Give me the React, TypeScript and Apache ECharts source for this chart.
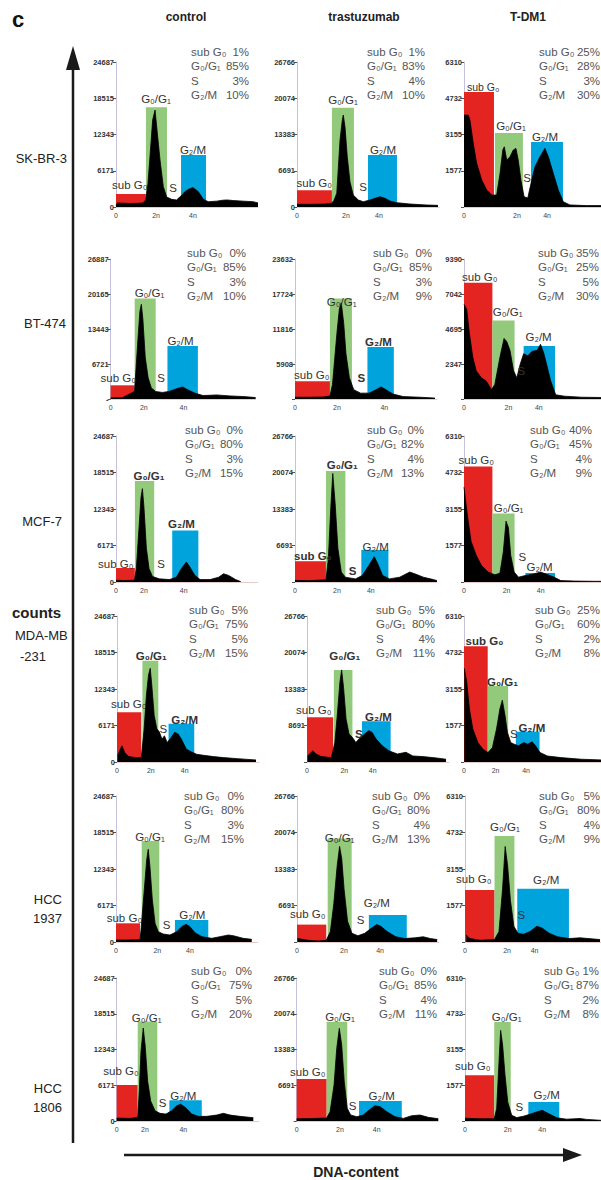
import React, { useEffect, useRef } from "react";
import * as echarts from "echarts";

// ---------------- DATA ----------------
const cellLines = ["SK-BR-3", "BT-474", "MCF-7", "MDA-MB-231", "HCC 1937", "HCC 1806"];
const treatments = ["control", "trastuzumab", "T-DM1"];
const phaseLabels = ["sub G₀", "G₀/G₁", "S", "G₂/M"];
const ploidyLabels = ["0", "2n", "4n"];

// y tick labels, from 0 to top, one entry per panel (row-major: control, trastuzumab, T-DM1)
const yTickLabels: string[][] = [
  ["0", "6171", "12343", "18515", "24687"], ["0", "6691", "13383", "20074", "26766"], ["", "1577", "3155", "4732", "6310"],
  ["-", "6721", "13443", "20165", "26887"], ["", "5908", "11816", "17724", "23632"], ["", "2347", "4695", "7042", "9390"],
  ["0", "6171", "12343", "18515", "24687"], ["", "6691", "13383", "20074", "26766"], ["", "1577", "3155", "4732", "6310"],
  ["0", "6171", "12343", "18515", "24687"], ["", "8691", "13383", "20074", "26766"], ["", "1577", "3155", "4732", "6310"],
  ["0", "6171", "12343", "18515", "24687"], ["", "6691", "13383", "20074", "26766"], ["", "1577", "3155", "4732", "6310"],
  ["0", "6171", "12343", "18515", "24687"], ["", "6691", "13383", "20074", "26766"], ["", "1577", "3155", "4732", "6310"],
];
const yMaxCounts = [
  24687, 26766, 6310,
  26887, 23632, 9390,
  24687, 26766, 6310,
  24687, 26766, 6310,
  24687, 26766, 6310,
  24687, 26766, 6310,
];

// percentages: sub G0, G0/G1, S, G2/M
const phasePercents = [
  [1, 85, 3, 10], [1, 83, 4, 10], [25, 28, 3, 30],
  [0, 85, 3, 10], [0, 85, 3, 9], [35, 25, 5, 30],
  [0, 80, 3, 15], [0, 82, 4, 13], [40, 45, 4, 9],
  [5, 75, 5, 15], [5, 80, 4, 11], [25, 60, 2, 8],
  [0, 80, 3, 15], [0, 80, 4, 13], [5, 80, 4, 9],
  [0, 75, 5, 20], [0, 85, 4, 11], [1, 87, 2, 8],
];

// channel of "2n" and "4n" tick labels (channel scale 0-100)
const ploidyPos = [
  [28.2, 54.2], [34.5, 57.7], [37.3, 58.5],
  [22.9, 50.2], [29.5, 62.9], [31.3, 52.7],
  [19.7, 47.7], [29.5, 53.4], [30, 54],
  [23.8, 47.7], [26.3, 46.3], [22.2, 43.7],
  [29.1, 52.1], [33.1, 58.5], [29.6, 49],
  [19.9, 46.9], [30.5, 56.3], [30.1, 54.4],
];

// gates: [start channel, end channel, height in counts] for sub G0, G0/G1, G2/M
const gatesSKBR3 = [
  [[0, 21, 2200], [21.1, 35.9, 17000], [45.8, 63.4, 8850]],
  [[0, 24.6, 3100], [24.6, 40.1, 18300], [50, 70.4, 9600]],
  [[0, 21.1, 5000], [21.8, 41.5, 3220], [47.2, 69.7, 2830]],
];
const gatesBT474 = [
  [[0, 16.6, 2630], [16.6, 31.1, 19280], [39.2, 60.2, 10170]],
  [[0, 24.6, 3010], [24.6, 40.1, 16950], [51, 69.6, 8770]],
  [[0, 20, 7790], [20, 35.6, 5270], [42, 64.1, 3560]],
];
const gatesMCF7 = [
  [[0, 13.3, 2370], [13.3, 26.9, 17090], [39.6, 58, 8700]],
  [[0, 21.8, 3810], [21.8, 35.5, 20350], [46.7, 65.8, 5890]],
  [[0, 20, 4990], [20, 35.6, 2960], [43.2, 64.1, 390]],
];
const gatesMDA = [
  [[0, 17.1, 8430], [17.9, 29.1, 17120], [36.3, 54.4, 6450]],
  [[0, 18.4, 8210], [18.9, 32, 16880], [38.7, 58.9, 7480]],
  [[0, 16.7, 5000], [16.7, 31.1, 3290], [36.5, 53.2, 1310]],
];
const gatesHCC1937 = [
  [[0, 16.9, 3160], [18.1, 30.5, 17070], [41.5, 65, 3720]],
  [[0, 20.6, 3190], [21.6, 38.5, 18990], [50.6, 77.3, 4970]],
  [[0, 20.8, 2250], [20.8, 34.8, 4580], [36.8, 73.2, 2300]],
];
const gatesHCC1806 = [
  [[0, 14.8, 6220], [14.8, 28.6, 17190], [37.1, 59.9, 3600]],
  [[0, 21.1, 7860], [21.1, 35.6, 18590], [43.9, 74, 3740]],
  [[0, 20.6, 2015], [20.6, 32.2, 4370], [44.6, 66.4, 840]],
];

// DNA histograms: [channel, counts]
const histSKBR3 = [
  [[0, 300], [1, 700], [5, 650], [10, 600], [15, 620], [19, 700], [20.9, 1200], [22.5, 4000], [23.9, 8500], [25.8, 14800], [27.5, 16500], [29.1, 12600], [31, 8000], [33.3, 3500], [35.7, 1700], [39.2, 1300], [42.7, 1200], [44.5, 1600], [46.3, 2000], [48.5, 2600], [50.9, 3000], [52.5, 3150], [54, 3300], [56, 3000], [58, 2600], [61.5, 1300], [65, 900], [70.9, 1000], [75, 1150], [78, 1200], [82.6, 1100], [89.6, 1000], [96.7, 900], [100, 700]],
  [[0, 500], [10, 500], [20, 550], [24.4, 700], [26, 1200], [28, 2530], [30.3, 12370], [31.9, 16060], [32.6, 16980], [33.8, 14800], [35.4, 9290], [37.3, 4670], [39.6, 2210], [43.2, 1290], [46.7, 980], [51.4, 1290], [54.9, 1600], [58.5, 1900], [62, 1600], [65.5, 1100], [70.2, 800], [79.6, 550], [91.3, 370], [99.3, 300]],
  [[0, 4000], [3, 4000], [4.2, 3780], [6.5, 2780], [8.9, 1910], [12.5, 1170], [16, 740], [19.5, 520], [23, 520], [25.4, 1480], [27.3, 2480], [28.4, 2620], [30.1, 2040], [32.4, 2190], [34.7, 2480], [36.6, 2550], [38.2, 2040], [40.1, 1170], [42.3, 450], [44.9, 390], [47.7, 1170], [50, 1750], [53.5, 2190], [57, 2550], [59.4, 2190], [62.9, 1460], [66.4, 740], [69.9, 230], [74.6, 90], [86.4, 60], [96.5, 60]],
];
const histBT474 = [
  [[0, 200], [8, 250], [16.5, 1450], [18.8, 11290], [20.2, 16860], [21.2, 18180], [22.3, 15220], [23.9, 8000], [25.9, 4060], [28.1, 2130], [31, 1450], [35.7, 1260], [40.3, 1450], [45, 1930], [49.7, 2320], [53.2, 1760], [57.9, 1160], [63.7, 660], [73.1, 780], [82.4, 590], [91.7, 470], [100, 280]],
  [[0, 300], [10, 300], [20, 350], [24.6, 500], [26.4, 2430], [29.5, 11070], [31.2, 15130], [32.6, 16250], [34.3, 12800], [35.9, 7620], [38.3, 3590], [41.4, 1560], [46.2, 990], [52.2, 990], [57, 1560], [60.6, 2040], [64.1, 1560], [68.9, 850], [76.1, 410], [88, 300], [98.6, 150]],
  [[0, 6350], [1.9, 6020], [3.8, 4400], [6.2, 2800], [8.6, 1890], [12.2, 1420], [15.7, 1200], [19.3, 620], [21.7, 970], [25.3, 2800], [28.2, 4060], [30.1, 3850], [32.4, 3260], [34.9, 1890], [37.2, 1420], [39.6, 2340], [42, 3040], [44.9, 2900], [48, 3200], [51.5, 3260], [53.9, 3670], [56.3, 3040], [58.7, 2110], [61.1, 1200], [64.6, 280], [70.6, 190], [82.6, 120], [96.5, 100]],
];
const histMCF7 = [
  [[0, 300], [6, 250], [13, 300], [14.3, 2260], [16.2, 9160], [17.6, 14340], [18.6, 15780], [19.7, 12600], [21.4, 5700], [23.3, 2260], [25.7, 930], [30.5, 530], [37.7, 410], [42.5, 810], [46, 2260], [49.6, 3390], [52, 2540], [55.6, 1100], [59.2, 410], [66.3, 410], [72.3, 810], [75.8, 1390], [79.4, 1100], [84.2, 410], [87.8, 70]],
  [[0, 300], [10, 250], [21.8, 400], [23.5, 4320], [25.2, 13670], [26.6, 19900], [28.3, 14300], [30.2, 6180], [32.6, 1820], [35.5, 880], [42.6, 570], [47.4, 1200], [52.1, 3070], [55.8, 4640], [58.2, 3390], [61.7, 1200], [66.5, 570], [73.7, 880], [80.8, 1820], [84.4, 1500], [90.4, 880], [97.5, 440], [100, 250]],
  [[0, 4100], [2.6, 2780], [5, 1750], [8.6, 1160], [12.2, 720], [17, 430], [21.7, 310], [25.3, 380], [27.7, 1310], [29.6, 2630], [31.3, 2340], [32.9, 1160], [35.3, 430], [38.4, 210], [43.2, 280], [49.2, 350], [53.9, 430], [58.7, 320], [63.5, 210], [68.2, 60], [77.8, 40], [92.1, 30], [96.5, 30]],
];
const histMDA = [
  [[0.4, 1030], [2.3, 2150], [3.5, 2730], [5.4, 1600], [8.3, 910], [13.1, 740], [17.1, 740], [19.1, 5590], [20.7, 11290], [22.2, 14710], [23.4, 15850], [24.5, 13010], [26.2, 7860], [28.1, 5590], [29.8, 5100], [31.7, 3870], [33.4, 4430], [35.3, 3300], [38.2, 4150], [40.6, 5020], [43, 4750], [45.3, 3870], [48.9, 2150], [52.5, 1700], [56.1, 1310], [60.8, 1140], [68, 910], [75.1, 740], [84.7, 570], [97.9, 340]],
  [[0.4, 1110], [4.1, 2040], [6.4, 1470], [10, 990], [17.2, 810], [19.6, 3580], [21.5, 9140], [23.2, 14710], [24.4, 16880], [25.8, 13490], [27.5, 7920], [29.6, 5130], [32, 4510], [34.4, 3580], [37.5, 4510], [40.6, 5130], [43.5, 5750], [45.8, 5440], [48.7, 4200], [53, 2960], [57.7, 2040], [63.7, 1470], [69.7, 1780], [74.5, 1110], [81.6, 990], [91.2, 740], [97.9, 500]],
  [[0.2, 4050], [1.9, 3470], [3.8, 2300], [6.2, 1430], [9.8, 840], [13.4, 550], [16.9, 410], [20, 620], [22.9, 1430], [25.3, 2300], [27, 2670], [28.9, 2010], [30.6, 1280], [32.9, 840], [35.3, 770], [38.4, 700], [42, 840], [44.9, 770], [48, 870], [50.4, 700], [53.5, 410], [58.7, 260], [68.2, 190], [82.6, 120], [96.5, 90]],
];
const histHCC1937 = [
  [[0, 340], [8, 340], [16.9, 400], [17.6, 2030], [19.9, 8790], [21.6, 13860], [22.7, 15670], [23.9, 12730], [25.6, 7100], [27.5, 3160], [29.8, 1740], [33.3, 1350], [38, 1180], [42.7, 1740], [46.3, 2590], [49.3, 2990], [52.1, 2590], [55.6, 1570], [60.4, 900], [67.4, 620], [73.2, 900], [79.1, 1180], [82.6, 1070], [89.6, 620], [95.6, 450]],
  [[0.4, 640], [7.7, 320], [15, 190], [20.6, 320], [23.5, 1910], [25.9, 7010], [28.3, 14020], [30, 17520], [31.5, 15290], [33.2, 9560], [35.6, 3820], [38.7, 1590], [42.9, 1150], [47.7, 1590], [52.5, 2550], [56.2, 3190], [59.1, 2870], [63.5, 1910], [69.5, 960], [75.6, 640], [82.9, 760], [88.9, 960], [93.8, 640], [98.7, 450]],
  [[0.9, 300], [3.4, 150], [10.6, 75], [20.8, 105], [23.9, 450], [26.4, 2250], [28.3, 4130], [30, 3310], [32, 1800], [34.4, 680], [37.3, 380], [41, 330], [45.8, 450], [50.6, 680], [54.3, 600], [59.2, 380], [65.2, 225], [73.2, 150], [81, 180], [95.1, 105]],
];
const histHCC1806 = [
  [[0, 500], [9.4, 450], [14.8, 630], [15.9, 5190], [17.1, 12050], [18.7, 16060], [20.1, 12900], [21.8, 6900], [23.9, 3480], [27, 1770], [30.5, 1320], [34.7, 1200], [38.7, 1770], [42.3, 2620], [45.1, 2910], [48.8, 2230], [52.8, 1200], [57.5, 800], [63.4, 800], [70.4, 1030], [75.1, 1320], [79.8, 1030], [86.8, 800], [96.2, 570]],
  [[0, 400], [9.4, 450], [21.1, 560], [23.5, 1740], [26.3, 6740], [28.2, 13600], [30, 17350], [31.7, 14230], [33.5, 7360], [35.6, 2380], [38, 1120], [42.3, 800], [46.9, 1120], [51.1, 2060], [55.1, 2860], [58.7, 2680], [63.4, 1740], [69.2, 800], [75.1, 490], [81, 990], [86.8, 1120], [92.7, 680], [99.7, 430]],
  [[0, 120], [10.6, 100], [20.6, 100], [22.3, 550], [23.7, 2310], [25.1, 4000], [26.5, 3340], [28.2, 2020], [30.1, 840], [32.9, 250], [36.4, 150], [41.1, 210], [45.8, 300], [50.5, 400], [54.4, 470], [58.7, 330], [64.6, 140], [71.6, 80], [81, 110], [85.7, 70], [95.8, 30]],
];

const allGates = [gatesSKBR3, gatesBT474, gatesMCF7, gatesMDA, gatesHCC1937, gatesHCC1806];
const allHists = [histSKBR3, histBT474, histMCF7, histMDA, histHCC1937, histHCC1806];

// ---------------- LAYOUT ----------------
const FONT = "'Liberation Sans', Arial, 'DejaVu Sans', sans-serif";
const PX_PER_CH = 1.42;
const rowTopZero = [[62, 207], [259, 399], [436, 582], [616, 762], [796, 942], [978, 1121]];
const panelLeft = [
  [116, 297, 464], [110.6, 295, 464], [116, 295, 464],
  [117, 307, 464], [116, 297, 465], [116.7, 296.7, 465],
];
const statPos = [
  [191, 249, 52], [367, 425, 52], [539, 600, 52],
  [187, 246, 253], [373, 432, 253], [538, 599, 253],
  [185, 243, 430], [367, 424, 430], [530, 592, 430],
  [189, 248, 610], [376, 435, 610], [535, 600, 610],
  [184, 244, 796], [372, 430, 796], [539, 600, 796],
  [191, 252, 971], [379, 437, 971], [544, 599, 971],
];
// gate label positions: [x, y, align(0 left,1 center,2 right), bold]
const gateLabelPos = [
  [[112, 185, 0, 0], [156, 99, 1, 0], [173, 188, 1, 0], [193, 150, 1, 0]],
  [[332, 183, 2, 0], [343, 100, 1, 0], [363, 187, 1, 0], [383, 150, 1, 0]],
  [[467, 87, 0, 0], [511, 126, 1, 0], [527, 178, 1, 0], [545, 137, 1, 0]],
  [[100.6, 378, 0, 0], [149.5, 293, 1, 0], [161, 378, 1, 0], [180.5, 341, 1, 0]],
  [[294, 375, 0, 0], [341.7, 302, 1, 0], [361.3, 378, 1, 1], [378.5, 342, 1, 1]],
  [[462, 277, 0, 0], [507.7, 312, 1, 0], [521.4, 371, 1, 0], [538.6, 337, 1, 0]],
  [[98, 564, 0, 0], [149, 476, 1, 1], [161, 564, 1, 0], [181.5, 524, 1, 1]],
  [[294, 556, 0, 1], [342.3, 465, 1, 1], [352.6, 571, 1, 1], [375.7, 546.5, 1, 0]],
  [[458.6, 460, 0, 0], [508.6, 508, 1, 0], [522.4, 557, 1, 0], [539.6, 567, 1, 0]],
  [[111, 704, 0, 0], [151.3, 656, 1, 1], [163.3, 729, 1, 0], [184.7, 719.5, 1, 1]],
  [[296, 710, 0, 0], [344.8, 656, 1, 1], [358.9, 734, 1, 1], [378.5, 717, 1, 1]],
  [[465.6, 640.6, 0, 1], [502.5, 682, 1, 1], [513.9, 734, 1, 0], [531.8, 728, 1, 1]],
  [[106.7, 918, 0, 0], [150, 837, 1, 0], [166.7, 925, 1, 0], [192.3, 915, 1, 0]],
  [[290, 914, 0, 0], [339.6, 838, 1, 0], [360.6, 920, 1, 0], [376.8, 903, 1, 0]],
  [[456, 879, 0, 0], [504.9, 827, 1, 0], [521.4, 915, 1, 0], [546.2, 880, 1, 0]],
  [[103.3, 1071, 0, 0], [146.7, 1018, 1, 0], [162.7, 1103, 1, 0], [183.3, 1096, 1, 0]],
  [[290, 1072, 0, 0], [340, 1017, 1, 0], [352.7, 1106, 1, 0], [381.7, 1096, 1, 0]],
  [[455, 1066, 0, 0], [506.7, 1017, 1, 0], [519.3, 1107, 1, 0], [546.7, 1095, 1, 0]],
];
const rowLabelPos = [
  [[67, 158, 2]], [[66, 323, 2]], [[62, 521, 2]], [[15, 635, 0], [20, 656, 0]], [[62, 899, 2], [62, 918, 2]], [[62, 1088, 2], [62, 1107, 2]],
];
const gateColors = ["#e42420", "#93c97a", "#00a3dc"];
const ALIGNS = ["left", "center", "right"];

function textEl(text: string, x: number, y: number, opts: any = {}) {
  const align = opts.align || "left";
  const va = opts.va || "middle";
  return {
    type: "text",
    x,
    y,
    silent: true,
    z: 10,
    style: {
      text,
      fontSize: opts.size || 12,
      fontFamily: FONT,
      fontWeight: opts.bold ? "bold" : "normal",
      fill: opts.color || "#333",
      align,
      textAlign: align,
      verticalAlign: va,
      textVerticalAlign: va,
    },
  };
}

function buildOption() {
  const grid: any[] = [];
  const xAxis: any[] = [];
  const yAxis: any[] = [];
  const series: any[] = [];
  const graphic: any[] = [];

  for (let r = 0; r < 6; r++) {
    for (let c = 0; c < 3; c++) {
      const p = r * 3 + c;
      const [yt, y0] = rowTopZero[r];
      const left = panelLeft[r][c];
      const wide = r === 1 && c === 0;
      let width = wide ? 145 : 142;
      if (left + width > 601) width = 601 - left;
      const xMax = width / (wide ? 1.45 : PX_PER_CH);
      grid.push({ left, top: yt, width, height: y0 - yt, containLabel: false, outerBoundsMode: "none" });
      const ymax = yMaxCounts[p];
      const yTicks = [0, ymax / 4, ymax / 2, (3 * ymax) / 4, ymax];
      const labels = yTickLabels[p];
      yAxis.push({
        gridIndex: p,
        type: "value",
        min: 0,
        max: ymax,
        axisLine: { show: true, lineStyle: { color: "#c6c0dc", width: 1 } },
        axisTick: { show: true, length: 3, customValues: yTicks, lineStyle: { color: "#555", width: 1 } },
        axisLabel: {
          show: true,
          customValues: yTicks,
          formatter: (v: number) => labels[Math.round(v / (ymax / 4))] ?? "",
          fontSize: 7.5,
          fontWeight: "bold",
          color: "#333",
          margin: 2,
          fontFamily: FONT,
        },
        splitLine: { show: false },
      });
      const pp = ploidyPos[p];
      const xVals = [0, pp[0], pp[1]];
      xAxis.push({
        gridIndex: p,
        type: "value",
        min: 0,
        max: xMax,
        axisLine: { show: true, onZero: false, lineStyle: { color: "#e4cccc", width: 1 } },
        axisTick: { show: false },
        axisLabel: {
          show: true,
          customValues: xVals,
          formatter: (v: number) => {
            let best = 0;
            xVals.forEach((xv, i) => {
              if (Math.abs(xv - v) < Math.abs(xVals[best] - v)) best = i;
            });
            return ploidyLabels[best];
          },
          fontSize: 7,
          color: "#444",
          margin: 5,
          fontFamily: FONT,
        },
        splitLine: { show: false },
      });
      const gates = allGates[r][c];
      series.push({
        type: "custom",
        name: `${cellLines[r]} ${treatments[c]} gates`,
        xAxisIndex: p,
        yAxisIndex: p,
        silent: true,
        z: 1,
        clip: false,
        data: gates.map((g, k) => [g[0], g[1], g[2], k]),
        encode: { x: [0, 1], y: 2 },
        renderItem: (params: any, api: any) => {
          const a = api.coord([api.value(0), api.value(2)]);
          const b = api.coord([api.value(1), 0]);
          return {
            type: "rect",
            shape: { x: a[0], y: a[1], width: b[0] - a[0], height: b[1] - a[1] },
            style: { fill: gateColors[api.value(3)] },
          };
        },
      });
      series.push({
        type: "line",
        name: `${cellLines[r]} ${treatments[c]}`,
        xAxisIndex: p,
        yAxisIndex: p,
        data: allHists[r][c],
        symbol: "none",
        silent: true,
        z: 2,
        lineStyle: { color: "#000", width: 0.8 },
        areaStyle: { color: "#000", opacity: 1 },
      });

      // statistics text
      const [sl, sr, sy] = statPos[p];
      phaseLabels.forEach((lab, k) => {
        const y = sy + k * 14.3;
        graphic.push(textEl(lab, sl, y, { size: 11.5, color: "#555" }));
        graphic.push(textEl(`${phasePercents[p][k]}%`, sr, y, { size: 11.5, color: "#555", align: "right" }));
      });
      // gate labels
      gateLabelPos[p].forEach((pos, k) => {
        graphic.push(
          textEl(phaseLabels[k], pos[0], pos[1], {
            size: p === 2 && k === 0 ? 10.5 : 11.5,
            color: "#333",
            align: ALIGNS[pos[2]],
            bold: pos[3] === 1,
          })
        );
      });
    }
  }

  // headers
  graphic.push(textEl("c", 12, 19, { size: 22, bold: true, color: "#111" }));
  graphic.push(textEl(treatments[0], 186, 17, { size: 12, bold: true, align: "center", color: "#222" }));
  graphic.push(textEl(treatments[1], 364, 17, { size: 12, bold: true, align: "center", color: "#222" }));
  graphic.push(textEl(treatments[2], 528, 17, { size: 12, bold: true, align: "center", color: "#222" }));

  // row labels
  const rowTexts = [["SK-BR-3"], ["BT-474"], ["MCF-7"], ["MDA-MB", "-231"], ["HCC", "1937"], ["HCC", "1806"]];
  rowTexts.forEach((lines, r) => {
    lines.forEach((t, k) => {
      const pos = rowLabelPos[r][k];
      graphic.push(textEl(t, pos[0], pos[1], { size: 13, color: "#222", align: ALIGNS[pos[2]] }));
    });
  });
  graphic.push(textEl("counts", 12, 612, { size: 15, bold: true, color: "#222" }));
  graphic.push(textEl("DNA-content", 356, 1172, { size: 14, bold: true, color: "#222", align: "center" }));

  // arrows
  graphic.push({ type: "line", silent: true, shape: { x1: 73, y1: 66, x2: 73, y2: 1143 }, style: { stroke: "#1a1a1a", lineWidth: 2.5 } });
  graphic.push({ type: "polygon", silent: true, shape: { points: [[66, 70], [80, 70], [73, 46]] }, style: { fill: "#1a1a1a" } });
  graphic.push({ type: "line", silent: true, shape: { x1: 124, y1: 1155, x2: 566, y2: 1155 }, style: { stroke: "#1a1a1a", lineWidth: 2.5 } });
  graphic.push({ type: "polygon", silent: true, shape: { points: [[563, 1148], [563, 1162], [582, 1155]] }, style: { fill: "#1a1a1a" } });

  return { animation: false, backgroundColor: "#ffffff", grid, xAxis, yAxis, series, graphic };
}

export default function App() {
  const ref = useRef<HTMLDivElement>(null);
  useEffect(() => {
    if (!ref.current) return;
    const chart = echarts.init(ref.current, undefined, { renderer: "svg" });
    chart.setOption(buildOption() as any);
    return () => chart.dispose();
  }, []);
  return <div ref={ref} style={{ position: "absolute", left: 0, top: 0, width: 601, height: 1180, background: "#fff" }} />;
}
